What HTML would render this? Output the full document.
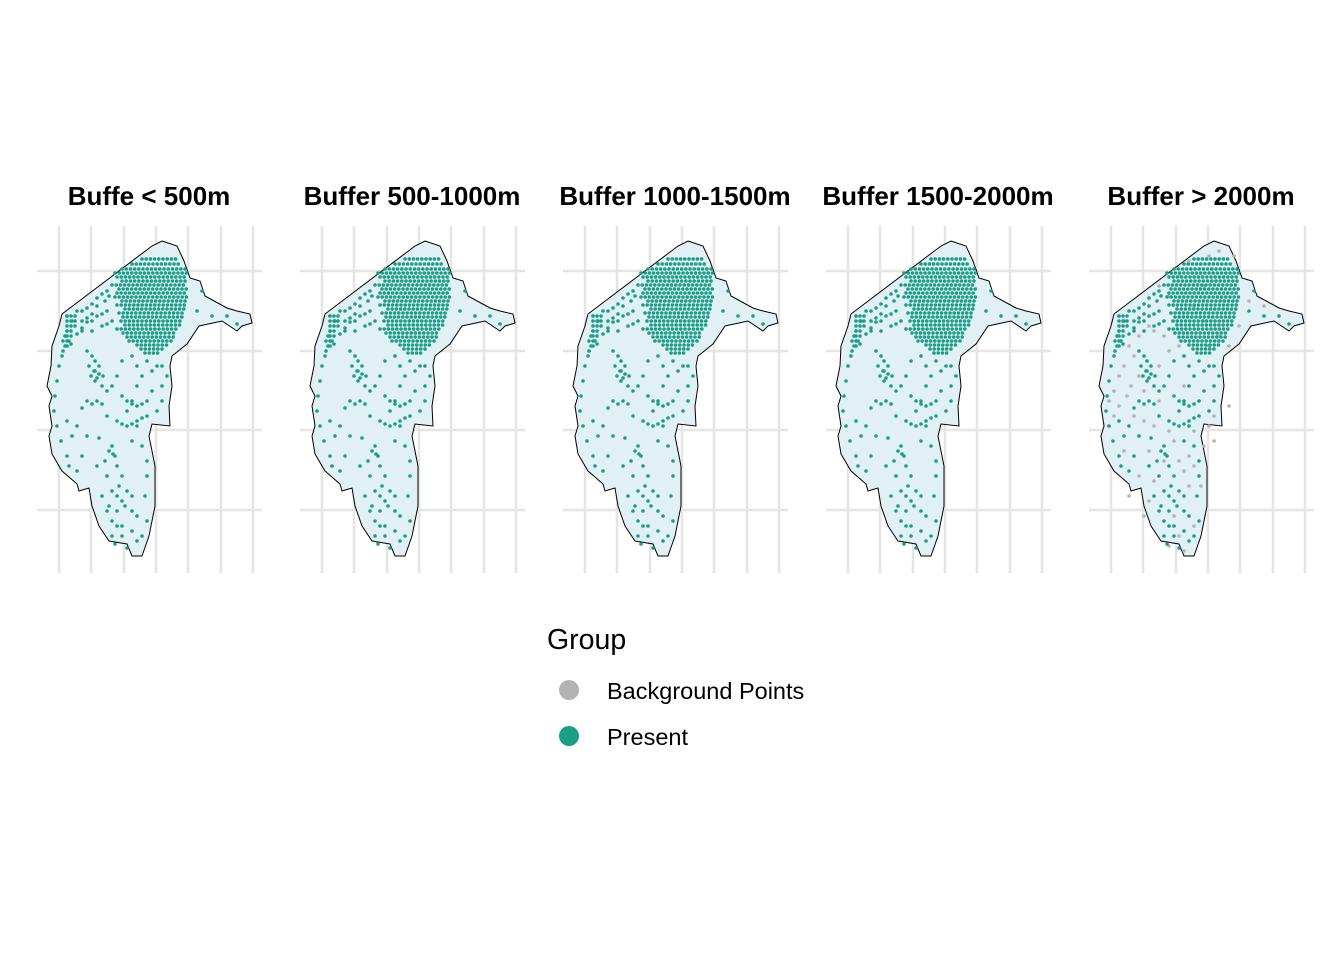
<!DOCTYPE html>
<html><head><meta charset="utf-8"><style>
body{margin:0;background:#fff;font-family:"Liberation Sans",Arial,sans-serif}
svg{display:block}
</style></head><body>
<svg id="chart" width="1344" height="960">
<g id="panels"></g>
<g>
<text x="547" y="649" font-size="28.5" fill="#000">Group</text>
<circle cx="569" cy="690" r="10" fill="#b3b3b3"/>
<text x="607" y="699" font-size="23.5">Background Points</text>
<circle cx="569" cy="736" r="10" fill="#1b9e85"/>
<text x="607" y="745" font-size="23.5">Present</text>
</g>
</svg>
<script>
const titles=["Buffe < 500m","Buffer 500-1000m","Buffer 1000-1500m","Buffer 1500-2000m","Buffer > 2000m"];
const boundary=[[125,15],[140,20],[147,35],[153,52],[163,55],[168,70],[190,82],[200,85],[213,88],[215,97],[205,100],[200,105],[185,95],[162,100],[150,118],[135,130],[133,140],[135,160],[132,180],[133,200],[115,198],[112,210],[118,240],[118,280],[112,310],[105,330],[95,330],[90,318],[72,315],[62,300],[55,280],[52,262],[42,265],[40,258],[25,245],[15,228],[12,210],[15,200],[12,180],[15,170],[10,160],[14,140],[15,120],[22,100],[25,88],[115,20]];
// dense cluster rows: [y, xStart, xEnd]
const denseRows=[[33,105,140],[38,95,145],[43,85,150],[47,78,152],[51,80,150],[55,85,150],[59,75,150],[63,82,150],[67,80,148],[71,78,150],[75,85,150],[79,80,148],[83,88,150],[87,82,148],[91,86,146],[95,84,145],[99,88,144],[103,80,142],[107,86,140],[111,90,138],[115,92,136],[119,100,132],[123,104,128],[127,108,124]];
const nwCluster=[[30,90],[34,90],[38,90],[30,95],[34,95],[38,95],[30,100],[34,100],[38,100],[30,105],[34,105],[30,110],[34,110],[30,115],[26,115],[30,120],[26,125],[40,85],[45,85],[50,82],[55,78],[60,72],[65,68],[70,65],[45,95],[50,92],[55,95],[60,90],[65,88],[70,85],[45,105],[55,105],[65,100],[70,98],[75,95]];
const scattered=[[30,90],[35,95],[30,105],[28,110],[32,115],[28,120],[34,118],[40,108],[45,102],[50,96],[55,88],[60,80],[68,75],[72,70],[25,130],[22,140],[20,155],[18,170],[17,185],[20,200],[24,215],[30,230],[32,240],[40,245],[50,125],[55,130],[58,135],[52,140],[57,145],[62,140],[60,152],[65,160],[70,165],[50,175],[55,178],[60,175],[65,178],[45,182],[40,200],[50,210],[62,212],[75,220],[78,230],[80,240],[85,250],[82,260],[90,265],[95,270],[88,280],[80,285],[75,295],[85,300],[95,305],[100,315],[90,322],[105,310],[110,295],[108,270],[110,250],[110,235],[105,220],[95,215],[100,200],[110,190],[120,185],[125,175],[115,165],[125,160],[130,150],[105,150],[100,160],[95,175],[90,185],[80,195],[70,190],[30,195],[35,210],[45,230],[60,240],[70,250],[65,270],[70,285],[75,310],[160,85],[175,90],[190,90],[200,98],[165,65],[120,140],[115,145],[125,140],[110,135],[100,140],[95,130],[85,135],[80,150],[75,160],[85,170],[58,145],[62,148],[66,150],[54,150],[58,155],[90,175],[95,178],[100,180],[105,178],[110,175],[85,198],[90,200],[95,198],[100,195],[105,192],[72,225],[76,228],[68,235],[75,265],[80,270],[85,275],[72,280],[80,300],[85,310],[78,318],[100,290],[95,285]];
const background=[[40,120],[45,130],[35,140],[50,150],[42,160],[38,170],[55,165],[70,140],[80,125],[90,120],[75,110],[65,105],[60,100],[50,110],[30,150],[25,165],[30,180],[45,190],[55,195],[65,200],[80,205],[85,215],[75,235],[90,235],[95,245],[100,260],[60,225],[50,250],[40,270],[55,290],[85,290],[100,290],[105,300],[95,325],[80,320],[112,260],[115,220],[120,200],[125,190],[110,175],[120,120],[130,110],[140,120],[150,100],[160,75],[175,80],[120,30],[130,25],[145,30],[100,35],[90,50],[80,70],[70,60],[105,80],[115,95],[135,75],[115,60],[95,160],[105,205],[70,175],[20,175],[25,190],[35,225],[65,255],[60,275],[90,310],[105,240],[100,230],[140,180],[125,215]];
const PX0=37,PY0=226,PDX=263;
const sx=(p,u)=>PX0+p*PDX+u, sy=v=>PY0+v;
const NS="http://www.w3.org/2000/svg";
const root=document.getElementById('panels');
function mk(tag,attrs,parent){const e=document.createElementNS(NS,tag);for(const k in attrs)e.setAttribute(k,attrs[k]);parent.appendChild(e);return e;}
titles.forEach((t,p)=>{
 const g=mk('g',{},root);
 
 
 [22,54,87,119,151,184,216].forEach(u=>{const l=mk('line',{x1:sx(p,u),x2:sx(p,u),y1:226,y2:573,stroke:'#e5e5e5','stroke-width':2.5},g);
  
  });
 [45,125,204,284].forEach(v=>{const l=mk('line',{x1:sx(p,0),x2:sx(p,225),y1:sy(v),y2:sy(v),stroke:'#e5e5e5','stroke-width':2.5},g);
  
  });
 const poly=mk('polygon',{points:boundary.map(b=>sx(p,b[0])+','+sy(b[1])).join(' '),fill:'#e1f0f5',stroke:'#000','stroke-width':1},g);
 
 
 if(p===4){background.forEach(b=>{const c=mk('circle',{cx:sx(p,b[0]),cy:sy(b[1]),r:1.8,fill:'#b3b3b3'},g);
  
  });}
 denseRows.forEach(r=>{for(let u=r[1];u<=r[2];u+=4.2){const c=mk('circle',{cx:sx(p,u),cy:sy(r[0]),r:1.8,fill:'#1b9e85'},g);
  
  }});
 nwCluster.concat(scattered).forEach(b=>{const c=mk('circle',{cx:sx(p,b[0]),cy:sy(b[1]),r:1.8,fill:'#1b9e85'},g);
  
  });
 const tt=mk('text',{x:sx(p,112),y:205,'text-anchor':'middle','font-size':26,'font-weight':'bold'},g);
 tt.textContent=t;
 
 
});
</script>
</body></html>
